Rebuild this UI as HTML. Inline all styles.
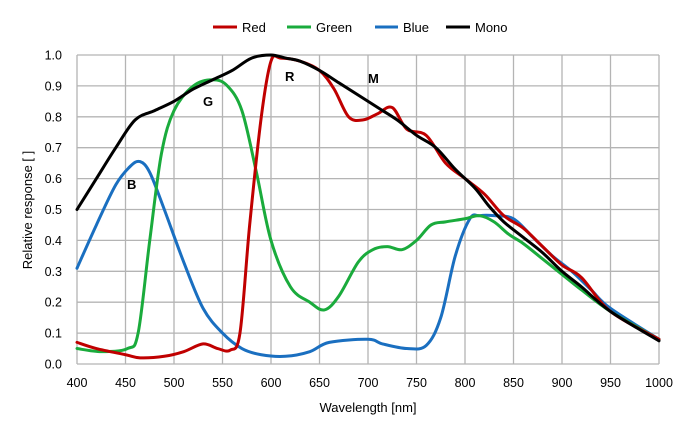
<!DOCTYPE html>
<html><head><meta charset="utf-8"><style>
body{margin:0;background:#fff;}
svg{display:block;font-family:"Liberation Sans",Arial,sans-serif;}
</style></head><body>
<svg id="s" width="690" height="428" viewBox="0 0 690 428" xmlns="http://www.w3.org/2000/svg">
<g id="grid" stroke="#b4b4b4" stroke-width="1.3" fill="none"></g>
<g id="lbl" font-size="12.5" fill="#000"></g>
<g id="curves" fill="none" stroke-width="3" stroke-linejoin="round" stroke-linecap="round"></g>
<g font-size="13" font-weight="bold" fill="#000">
<text x="127" y="189">B</text><text x="203" y="106">G</text><text x="285" y="81">R</text><text x="368" y="83">M</text>
</g>
<g font-size="13" fill="#000">
<line x1="213" y1="27" x2="237" y2="27" stroke="#c00000" stroke-width="3"/><text x="242" y="32">Red</text>
<line x1="287" y1="27" x2="311" y2="27" stroke="#1aab3c" stroke-width="3"/><text x="316" y="32">Green</text>
<line x1="375" y1="27" x2="398" y2="27" stroke="#1a6fc0" stroke-width="3"/><text x="403" y="32">Blue</text>
<line x1="446" y1="27" x2="470" y2="27" stroke="#000" stroke-width="3"/><text x="475" y="32">Mono</text>
</g>
<text x="368" y="412" font-size="13" text-anchor="middle">Wavelength [nm]</text>
<text transform="translate(32,210) rotate(-90)" font-size="13" text-anchor="middle">Relative response [ ]</text>
</svg>
<script>
var NS="http://www.w3.org/2000/svg";
function X(n){return 77+(n-400)*582/600;}
function Y(v){return 364-309*v;}
var g=document.getElementById('grid'),l=document.getElementById('lbl');
function el(p,t,a,txt){var e=document.createElementNS(NS,t);for(var k in a)e.setAttribute(k,a[k]);if(txt!=null)e.textContent=txt;p.appendChild(e);return e;}
for(var n=400;n<=1000;n+=50){el(g,'line',{x1:X(n),x2:X(n),y1:Y(1),y2:Y(0)});el(l,'text',{x:X(n),y:387,'text-anchor':'middle'},n);}
for(var i=0;i<=10;i++){var v=i/10;el(g,'line',{x1:X(400),x2:X(1000),y1:Y(v),y2:Y(v)});el(l,'text',{x:62,y:Y(v)+4.5,'text-anchor':'end'},v.toFixed(1));}
function path(d){var p=d.map(function(a){return [X(a[0]),Y(a[1])];});var s='M'+p[0][0]+','+p[0][1];
for(var i=0;i<p.length-1;i++){var p0=p[i-1]||p[i],p1=p[i],p2=p[i+1],p3=p[i+2]||p2;
s+=' C'+(p1[0]+(p2[0]-p0[0])/6)+','+(p1[1]+(p2[1]-p0[1])/6)+' '+(p2[0]-(p3[0]-p1[0])/6)+','+(p2[1]-(p3[1]-p1[1])/6)+' '+p2[0]+','+p2[1];}return s;}
var R=[[400,.07],[420,.05],[450,.03],[465,.02],[490,.025],[510,.04],[530,.065],[545,.05],[558,.045],[568,.1],[578,.45],[590,.8],[600,.98],[610,.99],[630,.98],[650,.95],[665,.89],[680,.8],[695,.79],[710,.81],[725,.83],[740,.76],[760,.74],[780,.65],[800,.6],[820,.55],[840,.48],[860,.44],[880,.38],[900,.32],[920,.28],[950,.17],[1000,.08]];
var G=[[400,.05],[425,.04],[452,.05],[463,.1],[475,.4],[487,.68],[500,.82],[520,.9],[540,.92],[555,.9],[570,.82],[585,.62],[600,.4],[620,.25],[640,.2],[655,.175],[670,.22],[690,.33],[705,.37],[720,.38],[735,.37],[750,.4],[765,.45],[780,.46],[800,.47],[815,.48],[830,.46],[845,.42],[860,.39],[880,.34],[900,.29],[920,.24],[950,.17],[1000,.08]];
var B=[[400,.31],[420,.45],[440,.58],[455,.64],[465,.655],[475,.62],[490,.5],[510,.33],[530,.18],[550,.1],[570,.05],[590,.03],[615,.025],[640,.04],[660,.07],[700,.08],[715,.065],[740,.05],[760,.06],[775,.15],[790,.35],[805,.47],[815,.48],[830,.48],[850,.47],[870,.41],[890,.35],[910,.3],[930,.24],[950,.18],[1000,.08]];
var M=[[400,.5],[420,.6],[440,.7],[460,.79],[480,.82],[500,.85],[520,.89],[540,.92],[560,.95],[580,.99],[600,1.0],[615,.99],[630,.98],[650,.95],[670,.91],[690,.87],[710,.83],[730,.79],[750,.74],[770,.7],[790,.63],[810,.57],[825,.51],[840,.46],[860,.41],[880,.36],[900,.3],[920,.25],[950,.17],[1000,.075]];
var c=document.getElementById('curves');
[[B,'#1a6fc0'],[G,'#1aab3c'],[R,'#c00000'],[M,'#000']].forEach(function(a){el(c,'path',{d:path(a[0]),stroke:a[1]});});
</script>
</body></html>
